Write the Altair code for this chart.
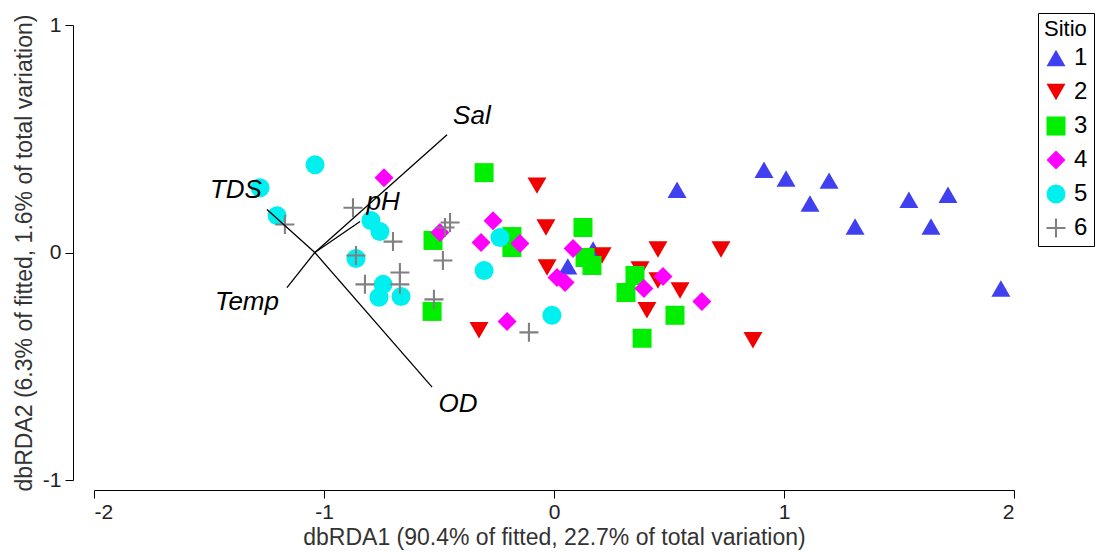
import altair as alt
import pandas as pd

# --- data ---
s1_x = [0.06, 0.17, 0.535, 0.913, 1.009, 1.196, 1.113, 1.309, 1.543, 1.713, 1.639, 1.943]
s1_y = [-0.061, 0.013, 0.276, 0.364, 0.325, 0.316, 0.215, 0.114, 0.232, 0.254, 0.114, -0.158]
s2_x = [-0.074, -0.035, -0.03, 0.209, -0.326, 0.452, 0.726, 0.374, 0.452, 0.548, 0.404, 0.865]
s2_y = [0.294, 0.11, -0.066, -0.013, -0.342, 0.013, 0.013, -0.075, -0.123, -0.167, -0.254, -0.386]
s3_x = [-0.304, -0.183, -0.183, 0.126, 0.135, 0.165, 0.352, 0.313, 0.526, 0.383, -0.526, -0.53]
s3_y = [0.351, 0.07, 0.022, 0.11, -0.022, -0.057, -0.101, -0.176, -0.276, -0.377, 0.053, -0.259]
s4_x = [-0.739, -0.496, -0.265, -0.317, -0.148, -0.204, 0.083, 0.013, 0.048, 0.474, 0.391, 0.643]
s4_y = [0.329, 0.088, 0.14, 0.044, 0.04, -0.303, 0.018, -0.11, -0.132, -0.105, -0.158, -0.215]
s5_x = [-1.039, -1.278, -1.204, -0.796, -0.757, -0.861, -0.743, -0.761, -0.665, -0.304, -0.235, -0.009]
s5_y = [0.386, 0.285, 0.162, 0.141, 0.092, -0.026, -0.14, -0.197, -0.193, -0.079, 0.066, -0.276]
s6_x = [-0.874, -1.17, -0.861, -0.7, -0.67, -0.67, -0.822, -0.483, -0.522, -0.452, -0.474, -0.109]
s6_y = [0.197, 0.123, -0.013, 0.048, -0.088, -0.14, -0.14, -0.035, -0.206, 0.132, 0.11, -0.351]

sites = ["1", "2", "3", "4", "5", "6"]
site_colors = ["#4040F0", "#F00000", "#00EE00", "#FF00FF", "#00F0F0", "#808080"]

vec_names = ["Sal", "pH", "TDS", "Temp", "OD"]
vec_x = [-0.465, -0.843, -1.248, -1.161, -0.53]
vec_y = [0.518, 0.136, 0.189, -0.154, -0.592]
lab_x = [-0.357, -0.743, -1.383, -1.335, -0.417]
lab_y = [0.601, 0.224, 0.276, -0.219, -0.667]
origin_x = -1.04
origin_y = 0.0

# --- tables ---
rows = []
for s, xs, ys in zip(sites, [s1_x, s2_x, s3_x, s4_x, s5_x, s6_x],
                     [s1_y, s2_y, s3_y, s4_y, s5_y, s6_y]):
    for a, b in zip(xs, ys):
        rows.append({"x": a, "y": b, "Sitio": s})
pts = pd.DataFrame(rows)

vec = pd.DataFrame({"name": vec_names, "x": [origin_x] * 5, "y": [origin_y] * 5,
                    "x2": vec_x, "y2": vec_y, "lx": lab_x, "ly": lab_y})

plus_path = ("M-1,-0.11L-0.11,-0.11L-0.11,-1L0.11,-1L0.11,-0.11L1,-0.11L1,0.11L0.11,0.11"
             "L0.11,1L-0.11,1L-0.11,0.11L-1,0.11Z")

FONT = "Liberation Sans"

xscale = alt.Scale(domain=[-2, 2], nice=False, zero=False)
yscale = alt.Scale(domain=[-1, 1], nice=False, zero=False)

xaxis = alt.Axis(title="dbRDA1 (90.4% of fitted, 22.7% of total variation)",
                 values=[-2, -1, 0, 1, 2], labelExpr="'' + datum.value", offset=10, grid=False,
                 domainColor="black", tickColor="black", tickSize=8,
                 labelFontSize=21, titleFontSize=23, titleFontWeight="normal",
                 labelColor="#222", titleColor="#333", labelFont=FONT, titleFont=FONT,
                 titlePadding=4, labelPadding=3)
yaxis = alt.Axis(title="dbRDA2 (6.3% of fitted, 1.6% of total variation)",
                 values=[-1, 0, 1], labelExpr="'' + datum.value", offset=21, grid=False,
                 domainColor="black", tickColor="black", tickSize=8,
                 labelFontSize=21, titleFontSize=23, titleFontWeight="normal",
                 labelColor="#222", titleColor="#333", labelFont=FONT, titleFont=FONT,
                 titlePadding=6, labelPadding=4)

points = alt.Chart(pts).mark_point(filled=True, opacity=1, strokeWidth=0).encode(
    x=alt.X("x:Q", scale=xscale, axis=xaxis),
    y=alt.Y("y:Q", scale=yscale, axis=yaxis),
    color=alt.Color("Sitio:N", scale=alt.Scale(domain=sites, range=site_colors)),
    shape=alt.Shape("Sitio:N", scale=alt.Scale(
        domain=sites,
        range=["triangle-up", "triangle-down", "square", "diamond", "circle", plus_path])),
    size=alt.Size("Sitio:N", scale=alt.Scale(domain=sites, range=[361, 361, 240, 361, 225, 380])),
)

rules = alt.Chart(vec).mark_rule(color="black", strokeWidth=1.3).encode(
    x=alt.X("x:Q", scale=xscale), y=alt.Y("y:Q", scale=yscale),
    x2="x2:Q", y2="y2:Q")

labels = alt.Chart(vec).mark_text(font=FONT, fontSize=26, fontStyle="italic",
                                  color="black", align="center", baseline="middle").encode(
    x=alt.X("lx:Q", scale=xscale), y=alt.Y("ly:Q", scale=yscale), text="name:N")

chart = alt.layer(points, rules, labels).properties(
    width=920, height=455,
    background="white",
    autosize=alt.AutoSizeParams(type="none"),
    padding={"left": 94, "top": 25, "right": 85, "bottom": 72},
).configure_view(stroke=None).configure_legend(
    orient="none", legendX=944, legendY=-12,
    strokeColor="black", padding=6, fillColor="white",
    titleFont=FONT, titleFontSize=22, titleFontWeight="normal", titleColor="black",
    labelFont=FONT, labelFontSize=24, labelColor="black",
    symbolSize=260, rowPadding=10, titlePadding=5, labelOffset=6,
    symbolStrokeWidth=0,
)

chart.save("out.html", embed_options={"renderer": "svg", "actions": False})
